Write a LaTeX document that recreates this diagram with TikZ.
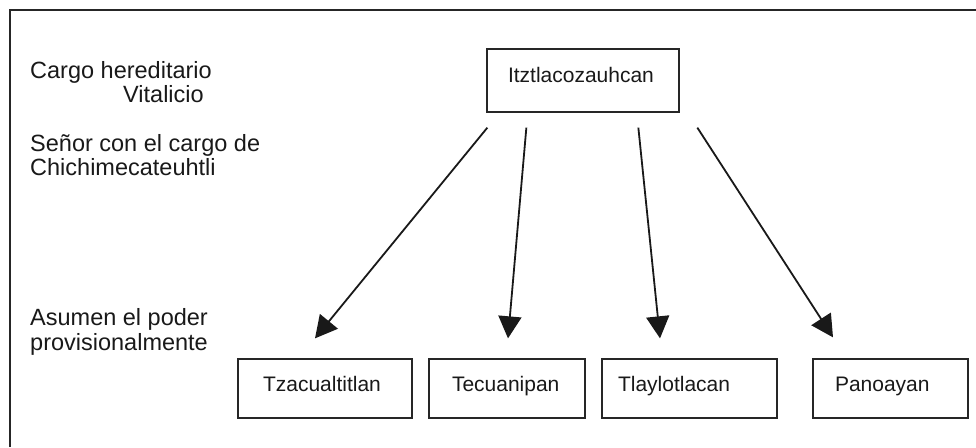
\documentclass[tikz,border=0pt]{standalone}
\usepackage{fontspec}
\setmainfont{Liberation Sans}
\usetikzlibrary{arrows.meta,calc}
\begin{document}
\begin{tikzpicture}[x=1pt,y=-1pt,
  frame/.style={draw=black!85, line width=1.3pt},
  box/.style={draw=black!85, line width=1.3pt, inner xsep=0pt, inner ysep=0pt,
    align=left, font=\fontsize{21}{25}\selectfont, text=black!90},
  topbox/.style={box, text height=33pt, text depth=30pt},
  lowbox/.style={box, text height=32pt, text depth=27pt},
  lbl/.style={anchor=base west, inner sep=0pt, align=left,
    font=\fontsize{23.5}{25}\selectfont, text=black!90},
  arr/.style={draw=black!90, line width=1.8pt,
    -{Triangle[length=22pt,width=23pt]}}]
\useasboundingbox (0,0) rectangle (976,447);

% outer frame (top and left edges)
\draw[frame] (10,447) -- (10,10) -- (976,10);

% level labels
\node[lbl] (l1) at (30,78) {Cargo hereditario};
\node[lbl] (l2) at (123,102) {Vitalicio};
\node[lbl] (l3) at (30,151) {Señor con el cargo de};
\node[lbl] (l4) at (30,175) {Chichimecateuhtli};
\node[lbl] (l5) at (30,325) {Asumen el poder};
\node[lbl] (l6) at (30,350) {provisionalmente};

% hereditary lord
\node[topbox, text width=192pt] (top) at (583,80.5) {\hspace*{21pt}Itztlacozauhcan};

% provisional rulers
\node[lowbox, text width=174pt] (b1) at (325,388.5) {\hspace*{25pt}Tzacualtitlan};
\node[lowbox, text width=156pt] (b2) at (507,388.5) {\hspace*{23pt}Tecuanipan};
\node[lowbox, text width=175pt] (b3) at (689.5,388.5) {\hspace*{16pt}Tlaylotlacan};
\node[lowbox, text width=155pt] (b4) at (890.5,388.5) {\hspace*{22pt}Panoayan};

% succession arrows
\draw[arr] ($(top.south west)+(1,15)$) -- ($(b1.north)+(-10,-20)$);
\draw[arr] ($(top.south west)+(40,15)$) -- ($(b2.north)+(1,-20)$);
\draw[arr] ($(top.south west)+(152,15)$) -- ($(b3.north)+(-29.5,-20)$);
\draw[arr] ($(top.south west)+(211,15)$) -- ($(b4.north)+(-57.5,-21)$);
\end{tikzpicture}
\end{document}
